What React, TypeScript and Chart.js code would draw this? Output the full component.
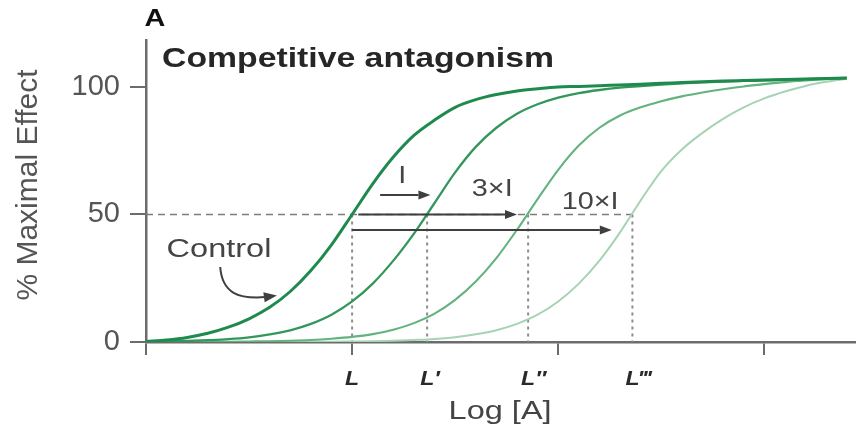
import React, { useEffect, useRef } from "react";
import { Chart, registerables } from "chart.js";

Chart.register(...registerables);

// ---- data ----
const logDose = [
  0, 0.1, 0.2, 0.3, 0.4, 0.5, 0.6, 0.7, 0.8, 0.9, 1.0, 1.1, 1.2, 1.3, 1.4, 1.5, 1.6, 1.7,
  1.8, 1.9, 2.0, 2.1, 2.2, 2.3, 2.4, 2.5, 2.6, 2.7, 2.8, 2.9, 3.0, 3.1, 3.2, 3.3, 3.4,
];
const controlEffect = [
  0.2, 0.8, 1.8, 3.4, 5.8, 9.1, 13.6, 19.8, 28.0, 38.1, 50, 62, 72.5, 81, 87, 92, 95, 97,
  98.4, 99.3, 100, 100.2, 100.5, 100.8, 101.1, 101.4, 101.7, 102.0, 102.3, 102.5, 102.7, 102.9, 103.1, 103.3, 103.5,
];
const antagonistIEffect = [
  0.1, 0.2, 0.4, 0.7, 1.1, 1.8, 3.0, 4.6, 7.1, 10.7, 15.9, 22.9, 31.9, 42.5, 54.5, 66.5, 76.5, 84,
  89.5, 93.2, 95.8, 97.6, 98.8, 99.7, 100.3, 100.9, 101.4, 101.8, 102.1, 102.4, 102.6, 102.85, 103.05, 103.25, 103.5,
];
const antagonist3IEffect = [
  0, 0, 0.1, 0.1, 0.1, 0.2, 0.3, 0.5, 0.8, 1.3, 2.0, 3.1, 4.8, 7.4, 11.1, 16.5, 23.7, 32.9,
  44, 56, 67.5, 77, 84, 88.8, 92, 94.4, 96.3, 97.8, 99.1, 100.2, 101.1, 101.9, 102.5, 103, 103.4,
];
const antagonist10IEffect = [
  0, 0, 0, 0, 0, 0, 0, 0.1, 0.1, 0.1, 0.2, 0.3, 0.5, 0.8, 1.2, 1.9, 3.0, 4.6,
  7.1, 10.7, 15.9, 22.9, 31.9, 43, 55.5, 67, 75.5, 82, 87.5, 92, 95.5, 98.2, 100.4, 102, 103.2,
];

const seriesNames = ["Control", "I", "3×I", "10×I"];
const seriesValues = [controlEffect, antagonistIEffect, antagonist3IEffect, antagonist10IEffect];
const seriesColors = ["#1e8a4d", "#33975b", "#62b37e", "#a6d3b3"];
const seriesWidths = [3, 2.3, 2.1, 2];

const yTickValues = [0, 50, 100];
const xTickValues = [0, 1, 2, 3];
const halfMaxLevel = 50;
const shiftPositions = [1.0, 1.364, 1.854, 2.36];
const shiftLabels = ["L", "L\u2032", "L\u2033", "L\u2034"];

const arrowLabels = ["I", "3×I", "10×I"];
const arrowStarts = [1.136, 1.03, 1.0];
const arrowEnds = [1.38, 1.8, 2.26];
const arrowLevels = [57.6, 50, 43.9];
const arrowLabelX = [1.243, 1.68, 2.155];
const arrowLabelY = [65.1, 60, 54.9];

const panelLetter = "A";
const titleText = "Competitive antagonism";
const controlText = "Control";
const xTitle = "Log [A]";
const yTitle = "% Maximal Effect";

const FONT = "'Liberation Sans', Arial, Helvetica, sans-serif";
const AXIS = "#6c6c6c";

function drawText(
  ctx: CanvasRenderingContext2D,
  text: string,
  x: number,
  y: number,
  font: string,
  color: string,
  align: CanvasTextAlign,
  sx: number
) {
  ctx.save();
  ctx.font = font;
  ctx.fillStyle = color;
  ctx.textAlign = align;
  ctx.textBaseline = "middle";
  ctx.translate(x, y);
  ctx.scale(sx, 1);
  ctx.fillText(text, 0, 0);
  ctx.restore();
}

function drawHead(ctx: CanvasRenderingContext2D, fx: number, fy: number, tx: number, ty: number, len: number, half: number) {
  const a = Math.atan2(ty - fy, tx - fx);
  const c = Math.cos(a);
  const s = Math.sin(a);
  const bx = tx - len * c;
  const by = ty - len * s;
  ctx.beginPath();
  ctx.moveTo(tx, ty);
  ctx.lineTo(bx + half * s, by - half * c);
  ctx.lineTo(bx - half * s, by + half * c);
  ctx.closePath();
  ctx.fill();
  return [bx, by];
}

const annotationPlugin = {
  id: "pharmaAnnotations",
  beforeDatasetsDraw(chart: any) {
    const { ctx } = chart;
    const x = chart.scales.x;
    const y = chart.scales.y;
    ctx.save();
    ctx.strokeStyle = "#7c7c7c";
    ctx.lineWidth = 1.6;
    ctx.setLineDash([7, 5]);
    ctx.beginPath();
    ctx.moveTo(x.getPixelForValue(0), y.getPixelForValue(halfMaxLevel));
    ctx.lineTo(x.getPixelForValue(shiftPositions[3]), y.getPixelForValue(halfMaxLevel));
    ctx.stroke();
    ctx.setLineDash([3, 4]);
    ctx.lineWidth = 2;
    ctx.strokeStyle = "#8c8c8c";
    shiftPositions.forEach((p) => {
      const px = x.getPixelForValue(p);
      ctx.beginPath();
      ctx.moveTo(px, y.getPixelForValue(halfMaxLevel));
      ctx.lineTo(px, y.getPixelForValue(0));
      ctx.stroke();
    });
    ctx.restore();
  },
  afterDatasetsDraw(chart: any) {
    const { ctx, chartArea } = chart;
    const x = chart.scales.x;
    const y = chart.scales.y;
    ctx.save();
    ctx.strokeStyle = "#3f3f3f";
    ctx.fillStyle = "#3f3f3f";
    ctx.lineWidth = 2;
    ctx.setLineDash([]);
    // shift arrows
    arrowLabels.forEach((lab, i) => {
      const x1 = x.getPixelForValue(arrowStarts[i]);
      const x2 = x.getPixelForValue(arrowEnds[i]);
      const yy = y.getPixelForValue(arrowLevels[i]);
      const [bx, by] = drawHead(ctx, x1, yy, x2, yy, 12, 4.5);
      ctx.beginPath();
      ctx.moveTo(x1, yy);
      ctx.lineTo(bx, by);
      ctx.stroke();
      drawText(ctx, lab, x.getPixelForValue(arrowLabelX[i]), y.getPixelForValue(arrowLabelY[i]), `24px ${FONT}`, "#444", "center", 1.2);
    });
    // control curved arrow
    const sx = x.getPixelForValue(0.36);
    const sy = y.getPixelForValue(29.4);
    const ex = x.getPixelForValue(0.58);
    const ey = y.getPixelForValue(17.6);
    ctx.beginPath();
    ctx.moveTo(sx, sy);
    ctx.bezierCurveTo(x.getPixelForValue(0.37), y.getPixelForValue(19), x.getPixelForValue(0.45), y.getPixelForValue(16.8), ex, ey);
    ctx.stroke();
    drawHead(ctx, ex - 4, ey + 0.5, x.getPixelForValue(0.635), y.getPixelForValue(18.2), 13, 5);
    ctx.restore();

    // texts
    drawText(ctx, panelLetter, chartArea.left + 9, chartArea.top - 21, `bold 24px ${FONT}`, "#111", "center", 1.2);
    drawText(ctx, titleText, x.getPixelForValue(0.078), y.getPixelForValue(110.6), `bold 27px ${FONT}`, "#262626", "left", 1.25);
    drawText(ctx, controlText, x.getPixelForValue(0.1), y.getPixelForValue(36.1), `26px ${FONT}`, "#444", "left", 1.25);
    shiftPositions.forEach((p, i) => {
      drawText(ctx, shiftLabels[i], x.getPixelForValue(p) - 7, chartArea.bottom + 37, `italic bold 21px ${FONT}`, "#2a2a2a", "left", 1.1);
    });
    drawText(ctx, xTitle, x.getPixelForValue(1.718), chartArea.bottom + 70, `26px ${FONT}`, "#444", "center", 1.25);
    ctx.save();
    ctx.translate(chartArea.left - 117, (chartArea.top + chartArea.bottom) / 2 - 6);
    ctx.rotate(-Math.PI / 2);
    ctx.font = `30px ${FONT}`;
    ctx.fillStyle = "#555";
    ctx.textAlign = "center";
    ctx.textBaseline = "middle";
    ctx.fillText(yTitle, 0, 0);
    ctx.restore();
  },
};

export default function App() {
  const ref = useRef<HTMLCanvasElement | null>(null);
  useEffect(() => {
    document.body.style.margin = "0";
    const canvas = ref.current;
    if (!canvas) return;
    const chart = new Chart(canvas, {
      type: "line",
      data: {
        datasets: seriesValues.map((vals, i) => ({
          label: seriesNames[i],
          data: logDose.map((xv, j) => ({ x: xv, y: vals[j] })),
          borderColor: seriesColors[i],
          borderWidth: seriesWidths[i],
          pointRadius: 0,
          fill: false,
          cubicInterpolationMode: "monotone" as const,
        })),
      },
      options: {
        responsive: false,
        animation: false,
        layout: { padding: { top: 40, right: 7, left: 0, bottom: 0 } },
        plugins: {
          legend: { display: false },
          tooltip: { enabled: false },
          title: { display: false },
        },
        scales: {
          x: {
            type: "linear",
            min: 0,
            max: 3.44,
            afterBuildTicks: (s: any) => {
              s.ticks = xTickValues.map((v) => ({ value: v }));
            },
            afterFit: (s: any) => {
              s.height = 96;
            },
            ticks: { display: false },
            grid: { drawOnChartArea: false, color: AXIS, lineWidth: 2, tickLength: 13 },
            border: { display: true, color: AXIS, width: 2.5 },
          },
          y: {
            type: "linear",
            min: 0,
            max: 118.4,
            afterBuildTicks: (s: any) => {
              s.ticks = yTickValues.map((v) => ({ value: v }));
            },
            afterFit: (s: any) => {
              s.width = 146;
            },
            ticks: { font: { size: 29, family: FONT }, color: "#555", padding: 10 },
            grid: { drawOnChartArea: false, color: AXIS, lineWidth: 2, tickLength: 16 },
            border: { display: true, color: AXIS, width: 2.5 },
          },
        },
      },
      plugins: [annotationPlugin],
    });
    return () => chart.destroy();
  }, []);
  return <canvas ref={ref} width={862} height={438} style={{ display: "block" }} />;
}
